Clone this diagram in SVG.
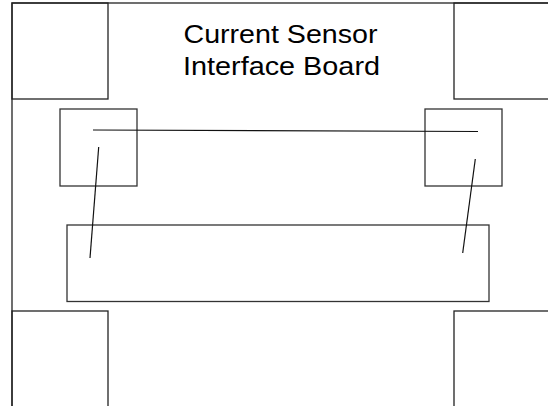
<svg xmlns="http://www.w3.org/2000/svg" width="548" height="406" viewBox="0 0 548 406">
<style>
.box{fill:none;stroke:#333;stroke-width:1.3}
.board{fill:none;stroke:#222;stroke-width:1.3}
.wire{fill:none;stroke:#111;stroke-width:1.2}
.lbl{font-family:"Liberation Sans",Arial,sans-serif;font-size:25.5px;fill:#000;text-anchor:middle}
</style>
<rect width="548" height="406" fill="#fff"/>
<g id="board">
<rect class="board" x="12" y="3" width="560" height="420"/>
<text class="lbl" x="280.5" y="43" textLength="194" lengthAdjust="spacingAndGlyphs">Current Sensor</text>
<text class="lbl" x="281.5" y="75" textLength="197" lengthAdjust="spacingAndGlyphs">Interface Board</text>
</g>
<g id="corner-tl"><rect class="board" x="12" y="3" width="96" height="96"/></g>
<g id="corner-tr"><rect class="board" x="454" y="3" width="120" height="96"/></g>
<g id="corner-bl"><rect class="board" x="12" y="311" width="96" height="120"/></g>
<g id="corner-br"><rect class="board" x="454" y="311" width="120" height="120"/></g>
<g id="pad-left"><rect class="box" x="60" y="109" width="77" height="77"/></g>
<g id="pad-right"><rect class="box" x="425" y="109" width="77" height="77"/></g>
<g id="connector-block"><rect class="box" x="67" y="225" width="422" height="76.5"/></g>
<g id="connectors">
<line class="wire" x1="93" y1="130" x2="478" y2="131.5"/>
<line class="wire" x1="98.7" y1="147" x2="90" y2="258"/>
<line class="wire" x1="475.3" y1="159" x2="462.7" y2="253"/>
</g>
</svg>
